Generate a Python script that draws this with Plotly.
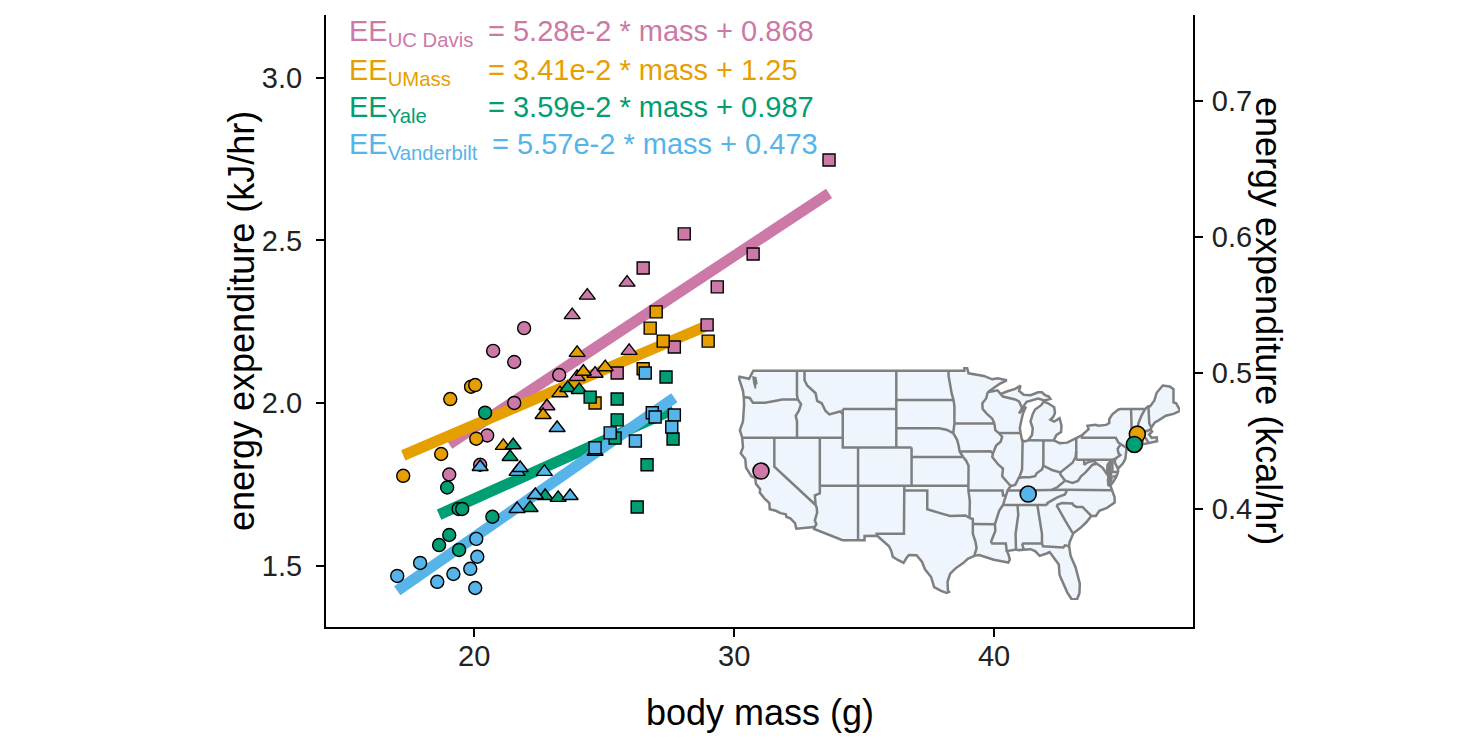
import plotly.graph_objects as go

# ---- data ----
sites = ["UC Davis", "UMass", "Yale", "Vanderbilt"]
colors = {"UC Davis": "#CC79A7", "UMass": "#E69F00", "Yale": "#009E73", "Vanderbilt": "#56B4E9"}
slopes = {"UC Davis": 5.28e-2, "UMass": 3.41e-2, "Yale": 3.59e-2, "Vanderbilt": 5.57e-2}
intercepts = {"UC Davis": 0.868, "UMass": 1.25, "Yale": 0.987, "Vanderbilt": 0.473}
slope_txt = {"UC Davis": "5.28e-2", "UMass": "3.41e-2", "Yale": "3.59e-2", "Vanderbilt": "5.57e-2"}
icpt_txt = {"UC Davis": "0.868", "UMass": "1.25", "Yale": "0.987", "Vanderbilt": "0.473"}

# body mass (g), energy expenditure (kJ/hr), marker shape per point
davis_mass = [21.92, 20.73, 21.54, 23.27, 21.54, 20.5, 19.04, 20.23,
              23.77, 24.35, 25.88, 25.96, 22.8, 24.65, 23.96,
              33.65, 28.08, 26.5, 30.73, 29.35, 28.96, 27.7, 25.5]
davis_ee = [2.23, 2.16, 2.126, 2.086, 2.0, 1.90, 1.78, 1.81,
            2.27, 2.33, 2.37, 2.16, 1.99, 2.09, 2.08,
            2.747, 2.52, 2.415, 2.458, 2.357, 2.24, 2.172, 2.092]
davis_shape = ["circle"] * 8 + ["triangle-up"] * 7 + ["square"] * 8

umass_mass = [17.27, 18.73, 19.08, 19.88, 20.04, 20.08,
              23.96, 24.2, 25.04, 23.3, 22.65, 21.12,
              27.0, 26.77, 27.27, 29.0, 26.5, 24.65]
umass_ee = [1.776, 1.843, 2.012, 2.05, 2.055, 1.89,
            2.154, 2.096, 2.11, 2.03, 1.963, 1.868,
            2.28, 2.23, 2.19, 2.19, 2.105, 2.0]
umass_shape = ["circle"] * 6 + ["triangle-up"] * 6 + ["square"] * 6

yale_mass = [20.42, 18.96, 19.4, 19.54, 20.7, 19.04, 18.65, 19.42,
             21.5, 21.38, 22.73, 23.23, 22.15, 23.6, 24.04,
             27.38, 25.5, 24.46, 25.5, 25.42, 27.65, 26.65, 26.27]
yale_ee = [1.97, 1.74, 1.674, 1.674, 1.65, 1.594, 1.563, 1.548,
           1.87, 1.834, 1.714, 1.708, 1.677, 2.046, 2.04,
           2.08, 2.012, 2.018, 1.948, 1.892, 1.889, 1.81, 1.68]
yale_shape = ["circle"] * 8 + ["triangle-up"] * 7 + ["square"] * 8

vand_mass = [17.04, 17.92, 18.58, 19.2, 19.85, 20.12, 20.08, 20.04,
             20.23, 21.65, 21.77, 22.7, 22.35, 23.69, 21.65, 23.19, 24.65,
             24.65, 26.58, 26.85, 26.96, 27.7, 27.6, 25.23, 26.2]
vand_ee = [1.468, 1.508, 1.45, 1.474, 1.49, 1.527, 1.582, 1.431,
           1.803, 1.788, 1.80, 1.788, 1.717, 1.714, 1.674, 1.923, 1.85,
           1.862, 2.092, 1.97, 1.957, 1.963, 1.926, 1.908, 1.883]
vand_shape = ["circle"] * 8 + ["triangle-up"] * 9 + ["square"] * 8

points = {
    "UC Davis": (davis_mass, davis_ee, davis_shape),
    "UMass": (umass_mass, umass_ee, umass_shape),
    "Yale": (yale_mass, yale_ee, yale_shape),
    "Vanderbilt": (vand_mass, vand_ee, vand_shape),
}

# campus locations for the inset map
site_lat = {"UC Davis": 38.54, "UMass": 42.39, "Yale": 41.31, "Vanderbilt": 36.14}
site_lon = {"UC Davis": -121.74, "UMass": -72.53, "Yale": -72.92, "Vanderbilt": -86.80}

# rough outline of the lower 48 (lon, lat), Great Lakes left open
us_outline = [
    (-124.7, 48.4), (-123.3, 48.15), (-122.75, 49.0), (-95.15, 49.0), (-95.15, 49.38),
    (-94.8, 49.3), (-94.6, 48.72), (-93.5, 48.55), (-92.6, 48.45), (-91.5, 48.1), (-90.8, 48.2),
    (-89.6, 48.0), (-90.6, 47.6), (-91.5, 47.1), (-92.1, 46.75), (-90.8, 46.95), (-90.4, 46.57),
    (-89.5, 46.85), (-88.5, 47.1), (-87.8, 47.45), (-88.0, 46.9), (-87.4, 46.5), (-86.5, 46.45),
    (-85.5, 46.75), (-85.0, 46.75), (-84.6, 46.45), (-84.1, 46.3), (-83.9, 46.05), (-84.7, 45.9),
    (-85.5, 46.1), (-86.5, 45.85), (-87.0, 45.75), (-87.6, 45.1), (-88.0, 44.55), (-87.1, 45.25),
    (-87.5, 44.5), (-87.7, 43.8), (-87.9, 43.0), (-87.8, 42.5), (-87.6, 41.75), (-87.2, 41.62),
    (-86.8, 41.76), (-86.3, 42.3), (-86.2, 43.0), (-86.5, 43.7), (-86.2, 44.5), (-85.9, 44.95),
    (-85.6, 45.15), (-85.1, 45.4), (-84.75, 45.78), (-84.2, 45.6), (-83.4, 45.2), (-83.3, 44.6),
    (-83.5, 44.2), (-83.9, 43.9), (-83.4, 43.7), (-82.7, 44.05), (-82.45, 43.3), (-82.45, 43.0),
    (-82.5, 42.6), (-83.1, 42.3), (-83.45, 41.75), (-82.7, 41.45), (-81.7, 41.5), (-80.52, 41.98),
    (-80.1, 42.15), (-79.76, 42.27), (-78.9, 42.9), (-79.05, 43.25), (-78.0, 43.37), (-77.6, 43.27),
    (-76.6, 43.35), (-76.2, 43.55), (-76.2, 43.95), (-75.8, 44.45), (-75.0, 44.95), (-74.7, 45.0),
    (-71.5, 45.01), (-71.1, 45.3), (-70.85, 45.3), (-70.3, 45.9), (-70.0, 46.7), (-69.2, 47.45),
    (-68.3, 47.35), (-67.8, 47.07), (-67.8, 45.7), (-67.45, 45.6), (-67.1, 45.1), (-66.95, 44.8),
    (-67.8, 44.5), (-68.8, 44.3), (-69.8, 43.8), (-70.25, 43.6), (-70.7, 43.08), (-70.8, 42.87),
    (-70.6, 42.65), (-71.0, 42.35), (-70.65, 42.0), (-70.0, 42.05), (-69.95, 41.65), (-70.6, 41.55),
    (-71.1, 41.5), (-71.45, 41.45), (-71.85, 41.32), (-72.9, 41.25), (-73.65, 41.0), (-73.95, 40.8),
    (-74.0, 40.45), (-74.1, 39.8), (-74.4, 39.35), (-74.95, 38.93), (-75.05, 38.8), (-75.05, 38.45),
    (-75.25, 38.0), (-75.65, 37.45), (-75.97, 37.12), (-76.0, 36.9), (-75.85, 36.55), (-75.5, 35.8),
    (-75.5, 35.25), (-76.5, 34.7), (-77.5, 34.4), (-77.95, 33.85), (-78.55, 33.86), (-79.2, 33.2),
    (-80.0, 32.6), (-80.9, 32.05), (-81.4, 31.1), (-81.45, 30.7), (-81.25, 29.7), (-80.6, 28.5),
    (-80.05, 26.8), (-80.1, 25.8), (-80.4, 25.2), (-81.1, 25.15), (-81.7, 25.9), (-82.1, 26.6),
    (-82.7, 27.7), (-82.8, 28.8), (-83.5, 29.6), (-84.0, 30.1), (-84.4, 29.95), (-85.3, 29.7),
    (-85.9, 30.2), (-86.5, 30.4), (-87.4, 30.35), (-88.05, 30.3), (-88.4, 30.37), (-89.4, 30.25),
    (-89.6, 30.2), (-89.4, 29.9), (-89.2, 29.3), (-89.4, 29.0), (-90.1, 29.1), (-91.3, 29.3),
    (-92.3, 29.55), (-93.2, 29.78), (-93.85, 29.7), (-94.7, 29.4), (-95.3, 28.95), (-96.3, 28.4),
    (-97.0, 27.85), (-97.35, 27.0), (-97.3, 26.1), (-97.15, 25.95), (-97.45, 25.85), (-98.2, 26.05),
    (-99.1, 26.45), (-99.5, 27.5), (-100.3, 28.3), (-100.7, 29.1), (-101.4, 29.77), (-102.4, 29.78),
    (-102.7, 29.5), (-103.1, 28.98), (-103.9, 29.3), (-104.5, 29.6), (-104.7, 30.2), (-105.0, 30.7),
    (-106.0, 31.4), (-106.55, 31.8), (-108.2, 31.78), (-108.2, 31.33), (-111.07, 31.33),
    (-114.8, 32.5), (-114.72, 32.72), (-117.12, 32.53), (-117.3, 33.1), (-117.9, 33.6),
    (-118.4, 33.75), (-118.5, 34.03), (-119.2, 34.15), (-119.8, 34.4), (-120.6, 34.55),
    (-120.65, 35.2), (-121.3, 35.7), (-121.9, 36.3), (-121.85, 36.65), (-122.4, 37.2), (-122.5, 37.8),
    (-123.0, 38.0), (-123.7, 38.9), (-123.8, 39.8), (-124.4, 40.4), (-124.1, 41.0), (-124.2, 42.0),
    (-124.5, 42.8), (-124.1, 43.7), (-123.95, 45.5), (-124.0, 46.25), (-124.1, 46.9), (-124.7, 48.4),
]

# inland waters that show up as dark grey patches
puget_sound = [(-122.45, 47.15), (-122.65, 47.7), (-122.75, 48.3), (-122.45, 48.25), (-122.3, 47.6)]
chesapeake = [(-76.0, 36.95), (-76.35, 37.05), (-76.4, 37.6), (-76.3, 38.1), (-76.5, 38.6),
              (-76.45, 39.2), (-76.1, 39.55), (-75.95, 39.35), (-76.1, 38.8), (-75.95, 38.3),
              (-75.85, 37.9), (-75.97, 37.4)]

# state borders as polylines (lon, lat)
state_borders = [
    [(-124.0, 46.25), (-123.2, 46.15), (-122.8, 45.65), (-121.2, 45.65), (-119.6, 45.9), (-119.0, 46.0), (-116.92, 46.0)],
    [(-117.04, 49.0), (-117.04, 46.43), (-116.92, 46.0)],
    [(-116.92, 46.0), (-116.5, 45.5), (-116.8, 44.8), (-117.2, 44.3), (-117.03, 43.7), (-117.03, 42.0)],
    [(-124.2, 42.0), (-111.05, 42.0)],
    [(-120.0, 42.0), (-120.0, 39.0), (-114.6, 35.0)],
    [(-114.6, 35.0), (-114.45, 34.7), (-114.4, 34.2), (-114.7, 33.4), (-114.5, 33.0), (-114.72, 32.72)],
    [(-114.6, 35.0), (-114.7, 36.0), (-114.05, 36.2), (-114.05, 42.0)],
    [(-114.05, 37.0), (-94.62, 37.0)],
    [(-116.05, 49.0), (-116.05, 48.0), (-115.7, 47.45), (-114.6, 46.65), (-114.4, 45.85), (-113.8, 45.6),
     (-113.3, 44.8), (-112.8, 44.45), (-111.4, 44.75), (-111.05, 44.5)],
    [(-111.05, 45.0), (-111.05, 41.0), (-109.05, 41.0)],
    [(-111.05, 45.0), (-104.05, 45.0)],
    [(-109.05, 41.0), (-109.05, 31.33)],
    [(-109.05, 41.0), (-102.05, 41.0)],
    [(-104.05, 49.0), (-104.05, 41.0)],
    [(-102.05, 41.0), (-102.05, 37.0)],
    [(-102.05, 40.0), (-95.3, 40.0)],
    [(-103.0, 37.0), (-103.0, 36.5), (-103.05, 32.0), (-106.6, 32.0), (-106.55, 31.8)],
    [(-103.0, 36.5), (-100.0, 36.5), (-100.0, 34.56), (-99.2, 34.4), (-98.1, 34.1), (-97.0, 33.85),
     (-96.0, 33.85), (-95.0, 33.9), (-94.48, 33.64)],
    [(-94.62, 37.0), (-94.62, 36.5), (-94.43, 35.4), (-94.48, 33.64)],
    [(-94.48, 33.64), (-94.04, 33.55), (-94.04, 33.02)],
    [(-94.04, 33.02), (-94.04, 31.99), (-93.7, 31.2), (-93.55, 30.5), (-93.85, 29.7)],
    [(-94.04, 33.02), (-91.15, 33.0)],
    [(-104.05, 45.94), (-96.56, 45.94)],
    [(-96.56, 45.94), (-96.8, 46.6), (-97.0, 47.5), (-97.2, 48.4), (-97.23, 49.0)],
    [(-96.56, 45.94), (-96.45, 45.3), (-96.45, 43.5)],
    [(-104.05, 43.0), (-98.5, 43.0), (-97.5, 42.85), (-96.6, 42.5)],
    [(-96.45, 43.5), (-96.6, 42.8), (-96.6, 42.5)],
    [(-96.45, 43.5), (-91.22, 43.5)],
    [(-96.6, 42.5), (-96.1, 41.8), (-95.9, 41.2), (-95.77, 40.58), (-95.3, 40.0)],
    [(-95.3, 40.0), (-94.9, 39.6), (-94.6, 39.1), (-94.62, 37.0)],
    [(-95.77, 40.58), (-91.73, 40.61), (-91.4, 40.38)],
    [(-92.1, 46.75), (-92.3, 46.1), (-92.8, 45.6), (-92.75, 45.0), (-92.2, 44.5), (-91.5, 44.0), (-91.22, 43.5)],
    [(-91.22, 43.5), (-91.1, 42.8), (-90.64, 42.5), (-90.2, 42.1), (-90.4, 41.6), (-91.0, 41.2), (-91.4, 40.38),
     (-91.5, 40.0), (-90.7, 39.2), (-90.1, 38.8), (-90.2, 38.0), (-89.5, 37.3), (-89.1, 36.98), (-89.5, 36.5),
     (-89.7, 36.0), (-90.1, 35.0), (-90.6, 34.4), (-91.15, 33.0), (-91.1, 32.3), (-91.6, 31.3), (-91.64, 31.0)],
    [(-90.64, 42.5), (-87.8, 42.5)],
    [(-90.4, 46.57), (-90.1, 46.3), (-88.5, 46.0), (-88.0, 45.8), (-87.6, 45.1)],
    [(-87.53, 41.7), (-87.53, 39.4), (-87.6, 38.7), (-87.9, 38.0), (-88.05, 37.8)],
    [(-86.8, 41.76), (-84.8, 41.7), (-83.45, 41.73)],
    [(-84.81, 41.7), (-84.82, 39.1)],
    [(-89.1, 36.98), (-88.5, 37.1), (-88.05, 37.8), (-87.5, 37.9), (-86.6, 37.9), (-85.9, 38.0), (-85.7, 38.3),
     (-85.0, 38.7), (-84.82, 39.1), (-83.7, 38.65), (-82.6, 38.4), (-81.7, 39.0), (-81.0, 39.4), (-80.6, 40.0),
     (-80.52, 40.64)],
    [(-82.6, 38.4), (-82.6, 38.2), (-81.97, 37.54)],
    [(-80.52, 40.64), (-80.52, 41.98)],
    [(-89.5, 36.5), (-81.68, 36.6)],
    [(-83.68, 36.6), (-83.0, 36.85), (-81.97, 37.54)],
    [(-81.97, 37.54), (-81.0, 37.3), (-80.3, 37.5), (-79.9, 38.0), (-79.3, 38.4), (-78.4, 39.2), (-77.8, 39.3)],
    [(-77.8, 39.3), (-78.3, 39.6), (-79.0, 39.45), (-79.48, 39.2), (-79.48, 39.72)],
    [(-80.52, 39.72), (-75.8, 39.72)],
    [(-80.52, 40.64), (-80.52, 39.72)],
    [(-77.8, 39.3), (-77.1, 38.9), (-76.3, 38.0)],
    [(-75.7, 37.95), (-75.25, 38.02)],
    [(-81.68, 36.6), (-82.0, 36.1), (-83.0, 35.8), (-84.3, 35.2), (-84.32, 34.99)],
    [(-84.32, 34.99), (-88.2, 34.99), (-90.1, 35.0)],
    [(-94.62, 36.5), (-90.15, 36.5), (-90.1, 36.0), (-89.7, 36.0)],
    [(-91.64, 31.0), (-89.73, 31.0), (-89.6, 30.2)],
    [(-88.2, 34.99), (-88.1, 34.0), (-88.45, 32.0), (-88.4, 30.4)],
    [(-85.6, 34.98), (-85.18, 32.8), (-85.0, 32.0), (-85.0, 31.0)],
    [(-87.6, 30.99), (-85.0, 31.0), (-84.86, 30.7), (-82.2, 30.57), (-82.0, 30.8), (-81.45, 30.7)],
    [(-87.6, 30.99), (-87.4, 30.4)],
    [(-83.1, 34.99), (-82.5, 34.1), (-81.9, 33.3), (-81.0, 32.1)],
    [(-83.1, 34.99), (-82.4, 35.2), (-81.0, 35.15), (-80.9, 35.0), (-80.5, 34.8), (-79.7, 34.8), (-78.55, 33.86)],
    [(-81.68, 36.6), (-75.87, 36.55)],
    [(-79.76, 42.27), (-79.76, 42.0), (-75.35, 42.0), (-75.0, 41.5), (-74.7, 41.35)],
    [(-74.7, 41.35), (-75.1, 40.85), (-75.0, 40.4), (-74.75, 40.2), (-75.1, 40.0), (-75.4, 39.83)],
    [(-75.8, 39.72), (-75.4, 39.83)],
    [(-75.4, 39.83), (-75.5, 39.45), (-75.05, 38.8)],
    [(-75.8, 39.72), (-75.79, 38.45), (-75.05, 38.45)],
    [(-74.7, 41.35), (-74.0, 41.0), (-73.95, 40.8)],
    [(-73.5, 42.05), (-73.5, 41.1), (-73.65, 41.0)],
    [(-73.5, 42.05), (-73.27, 42.75), (-73.3, 43.6), (-73.35, 45.01)],
    [(-73.5, 42.05), (-71.8, 42.02), (-71.38, 42.02)],
    [(-71.8, 42.02), (-71.85, 41.32)],
    [(-71.38, 42.02), (-71.38, 41.9), (-71.15, 41.6), (-71.1, 41.5)],
    [(-73.27, 42.75), (-72.46, 42.73), (-71.3, 42.7), (-70.8, 42.87)],
    [(-72.46, 42.73), (-72.4, 43.5), (-72.0, 44.3), (-71.5, 45.01)],
    [(-70.7, 43.08), (-70.97, 43.5), (-71.08, 45.3)],
]

KJ_PER_KCAL = 4.184
x_range = [14.3, 47.65]
y_range = [1.311, 3.193]
marker_size = {"circle": 13, "square": 12, "triangle-up": 14}
map_grey = "#7F7F7F"

fig = go.Figure()

# regression lines first, points on top
for s in sites:
    m = points[s][0]
    xs = [min(m), max(m)]
    ys = [slopes[s] * v + intercepts[s] for v in xs]
    fig.add_trace(go.Scatter(x=xs, y=ys, mode="lines",
                             line=dict(color=colors[s], width=11),
                             hoverinfo="skip", showlegend=False))

for s in sites:
    m, ee, shp = points[s]
    fig.add_trace(go.Scatter(x=m, y=ee, mode="markers", name=s,
                             marker=dict(symbol=shp, size=[marker_size[k] for k in shp],
                                         color=colors[s], opacity=1,
                                         line=dict(color="black", width=1.4)),
                             showlegend=False))

# invisible trace to bring up the kcal axis
fig.add_trace(go.Scatter(x=[x_range[0]], y=[y_range[0] / KJ_PER_KCAL], yaxis="y2",
                         mode="markers", marker=dict(opacity=0), hoverinfo="skip",
                         showlegend=False))

# ---- inset map on its own axes ----
fig.add_trace(go.Scatter(x=[p[0] for p in us_outline], y=[p[1] for p in us_outline],
                         xaxis="x3", yaxis="y3", mode="lines", fill="toself",
                         fillcolor="#EEF5FC", line=dict(color=map_grey, width=2.5),
                         hoverinfo="skip", showlegend=False))
for water in (puget_sound, chesapeake):
    fig.add_trace(go.Scatter(x=[p[0] for p in water], y=[p[1] for p in water],
                             xaxis="x3", yaxis="y3", mode="lines", fill="toself",
                             fillcolor=map_grey, line=dict(color=map_grey, width=2),
                             hoverinfo="skip", showlegend=False))
bx, by = [], []
for seg in state_borders:
    bx += [p[0] for p in seg] + [None]
    by += [p[1] for p in seg] + [None]
fig.add_trace(go.Scatter(x=bx, y=by, xaxis="x3", yaxis="y3", mode="lines",
                         line=dict(color=map_grey, width=2.5), hoverinfo="skip",
                         showlegend=False))
fig.add_trace(go.Scatter(x=[site_lon[s] for s in sites], y=[site_lat[s] for s in sites],
                         xaxis="x3", yaxis="y3", mode="markers",
                         marker=dict(size=16, color=[colors[s] for s in sites], opacity=1,
                                     line=dict(color="black", width=1.6)),
                         showlegend=False))

# ---- equation block ----
row_top = [1.003, 0.940, 0.879, 0.819]
eq_x = {"UC Davis": 0.184, "UMass": 0.184, "Yale": 0.184, "Vanderbilt": 0.189}
for i, s in enumerate(sites):
    fig.add_annotation(xref="paper", yref="paper", x=0.024, y=row_top[i], xanchor="left", yanchor="top",
                       text=f"EE<sub>{s}</sub>", showarrow=False,
                       font=dict(size=29, color=colors[s]))
    fig.add_annotation(xref="paper", yref="paper", x=eq_x[s], y=row_top[i],
                       xanchor="left", yanchor="top",
                       text=f"= {slope_txt[s]} * mass + {icpt_txt[s]}", showarrow=False,
                       font=dict(size=29, color=colors[s]))

# axis titles as annotations (right one reads top-to-bottom)
fig.add_annotation(xref="paper", yref="paper", x=0.5, y=-0.139, xanchor="center", yanchor="middle",
                   text="body mass (g)", showarrow=False, font=dict(size=36, color="black"))
fig.add_annotation(xref="paper", yref="paper", x=-0.098, y=0.5, xanchor="center", yanchor="middle",
                   text="energy expenditure (kJ/hr)", textangle=-90, showarrow=False,
                   font=dict(size=36, color="black"))
fig.add_annotation(xref="paper", yref="paper", x=1.0877, y=0.5, xanchor="center", yanchor="middle",
                   text="energy expenditure (kcal/hr)", textangle=90, showarrow=False,
                   font=dict(size=36, color="black"))

axis_common = dict(showline=True, linecolor="black", linewidth=2, ticks="outside",
                   ticklen=8, tickwidth=1.5, tickcolor="black", showgrid=False,
                   zeroline=False, automargin=False,
                   tickfont=dict(size=29, color="#222222"))
map_axis = dict(visible=False, showgrid=False, zeroline=False, fixedrange=True)

fig.update_layout(
    template="none",
    width=1470, height=731,
    margin=dict(l=318, r=285, t=7, b=112),
    paper_bgcolor="white", plot_bgcolor="rgba(0,0,0,0)",
    font=dict(family="Liberation Sans, Arial, sans-serif", color="black"),
    xaxis=dict(range=x_range, tickvals=[20, 30, 40], ticklabelstandoff=-6, **axis_common),
    yaxis=dict(range=y_range, tickvals=[1.5, 2.0, 2.5, 3.0], tickformat=".1f",
               ticklabelstandoff=8, **axis_common),
    yaxis2=dict(range=[v / KJ_PER_KCAL for v in y_range], overlaying="y", side="right",
                tickvals=[0.4, 0.5, 0.6, 0.7], tickformat=".1f", ticklabelstandoff=3, **axis_common),
    xaxis3=dict(domain=[0.4752, 0.985], range=[-124.75, -66.95], anchor="y3", **map_axis),
    yaxis3=dict(domain=[0.0441, 0.4248], range=[25.1, 49.38], anchor="x3", **map_axis),
    showlegend=False,
)

fig.write_html("out.html")
